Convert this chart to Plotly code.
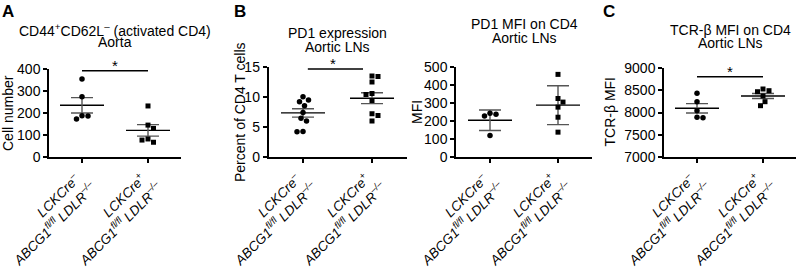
import numpy as np
import plotly.graph_objects as go

W, H = 797, 267

# ---------------- data ----------------
tick_line1 = ["<i>LCKCre<sup>–</sup></i>", "<i>LCKCre<sup>+</sup></i>"]
tick_line2 = ["<i>ABCG1<sup>fl/fl</sup> LDLR<sup>–/–</sup></i>",
              "<i>ABCG1<sup>fl/fl</sup> LDLR<sup>–/–</sup></i>"]

a_ctrl = [354, 274, 188, 173, 186]
a_ko = [232, 145, 130, 82, 67, 77]
a_mean = [235, 121]
a_err = [35, 26]

b1_ctrl = [10.05, 9.5, 9.2, 8.55, 7.4, 6.45, 6.0, 4.2, 4.25]
b1_ko = [13.5, 13.4, 12.5, 10.6, 10.4, 9.4, 7.2, 6.9, 6.0]
b1_mean = [7.35, 9.8]
b1_err = [0.7, 0.9]

b2_ctrl = [243, 237, 228, 120]
b2_ko = [459, 325, 305, 277, 221, 138]
b2_mean = [204, 288]
b2_err = [57, 108]

c_ctrl = [8431, 8243, 8040, 7892, 7883]
c_ko = [8528, 8490, 8467, 8371, 8243, 8153]
c_mean = [8094, 8372]
c_err = [105, 56]

a_ticks = [0, 100, 200, 300, 400]
b1_ticks = [0, 5, 10, 15]
b2_ticks = [0, 100, 200, 300, 400, 500]
c_ticks = [7000, 7500, 8000, 8500, 9000]

# ---------------- layout config ----------------
FONT = "Arial, Liberation Sans, Helvetica, sans-serif"
panels = [
    dict(ctrl=a_ctrl, ko=a_ko, mean=a_mean, err=a_err, ticks=a_ticks,
         x0=49, x1=181, ytop=69, ybot=157, yr=[0, 400],
         title=["CD44<sup>+</sup>CD62L<sup>–</sup> (activated CD4)", "Aorta"], ty=[30, 42],
         ytitle="Cell number", ytx=8, letter="A", lx=0,
         sig=dict(x=[0.0, 1.0], y=392, star=0.5)),
    dict(ctrl=b1_ctrl, ko=b1_ko, mean=b1_mean, err=b1_err, ticks=b1_ticks,
         x0=268.5, x1=406.5, ytop=67, ybot=157, yr=[0, 15],
         title=["PD1 expression", "Aortic LNs"], ty=[33, 47],
         ytitle="Percent of CD4 T cells", ytx=240, letter="B", lx=232,
         sig=dict(x=[0.07, 0.87], y=14.67, star=0.44)),
    dict(ctrl=b2_ctrl, ko=b2_ko, mean=b2_mean, err=b2_err, ticks=b2_ticks,
         x0=456, x1=592, ytop=67, ybot=157, yr=[0, 500],
         title=["PD1 MFI on CD4", "Aortic LNs"], ty=[24, 38],
         ytitle="MFI", ytx=417, letter=None, lx=0, sig=None),
    dict(ctrl=c_ctrl, ko=c_ko, mean=c_mean, err=c_err, ticks=c_ticks,
         x0=664, x1=796, ytop=68, ybot=157, yr=[7000, 9000],
         title=["TCR-β MFI on CD4", "Aortic LNs"], ty=[30, 43],
         ytitle="TCR-β MFI", ytx=609, letter="C", lx=601,
         sig=dict(x=[0.0, 1.0], y=8804, star=0.5)),
]

# rotated category label placement (top-right of rotated box), px
LABEL_SIZE = 13.5
L1_DX, L1_Y = 4, 167
L2_DX, L2_Y = 21, 175


def swarm(values, ppy, D=6.0):
    """Beeswarm offsets (px) so markers of diameter D don't overlap."""
    order = sorted(range(len(values)), key=lambda i: -values[i])
    placed = []
    offs = [0.0] * len(values)
    side = 1
    for i in order:
        y = values[i] * ppy
        chosen = None
        for k in np.arange(0, 40, 0.5):
            cands = [0.0] if k == 0 else [side * k, -side * k]
            for c in cands:
                if all((c - px) ** 2 + (y - py) ** 2 >= D * D for px, py in placed):
                    chosen = c
                    break
            if chosen is not None:
                break
        if chosen != 0:
            side = -side
        placed.append((chosen, y))
        offs[i] = chosen
    return offs


fig = go.Figure()
layout = dict(width=W, height=H, margin=dict(l=0, r=0, t=0, b=0, autoexpand=False),
              template="none",
              paper_bgcolor="white", plot_bgcolor="white", showlegend=False,
              font=dict(family=FONT, color="black", size=14))
annotations = []

for n, p in enumerate(panels):
    k = "" if n == 0 else str(n + 1)
    xa, ya = "x" + k, "y" + k
    wpx = p["x1"] - p["x0"]
    ppx = wpx / 2.0
    ppy = (p["ybot"] - p["ytop"]) / (p["yr"][1] - p["yr"][0])

    layout["xaxis" + k] = dict(
        domain=[p["x0"] / W, p["x1"] / W], range=[-0.5, 1.5], automargin=False,
        tickvals=[0, 1], showticklabels=False,
        showline=True, linecolor="black", linewidth=1.5, ticks="outside",
        ticklen=4, tickwidth=1.5, tickcolor="black", showgrid=False, zeroline=False,
        anchor=ya, fixedrange=True)
    layout["yaxis" + k] = dict(
        domain=[1 - p["ybot"] / H, 1 - p["ytop"] / H], range=p["yr"], automargin=False,
        tickvals=p["ticks"], showline=True, linecolor="black", linewidth=1.5,
        ticks="outside", ticklen=4, tickwidth=1.5, tickcolor="black",
        showgrid=False, zeroline=False, tickfont=dict(size=14, family=FONT),
        anchor=xa, fixedrange=True)

    # category labels (two rotated lines)
    for g in range(2):
        for txt, dx, ypx in ((tick_line1[g], L1_DX, L1_Y), (tick_line2[g], L2_DX, L2_Y)):
            annotations.append(dict(x=g, y=1 - ypx / H, xref=xa, yref="paper", text=txt,
                                    textangle=-45, showarrow=False, xanchor="right",
                                    yanchor="top", xshift=dx,
                                    font=dict(size=LABEL_SIZE, family=FONT)))

    # mean lines + error bars
    for g in range(2):
        hw = 22.0 / ppx
        fig.add_trace(go.Scatter(x=[g - hw, g + hw], y=[p["mean"][g]] * 2, mode="lines",
                                 line=dict(color="black", width=1.4), xaxis=xa, yaxis=ya,
                                 hoverinfo="skip"))
        fig.add_trace(go.Scatter(x=[g], y=[p["mean"][g]], mode="markers",
                                 marker=dict(size=1, color="rgba(0,0,0,0)"),
                                 error_y=dict(type="data", array=[p["err"][g]], visible=True,
                                              color="#555555", thickness=1.4, width=11),
                                 xaxis=xa, yaxis=ya, hoverinfo="skip"))
    # points
    for g, (vals, sym, sz) in enumerate([(p["ctrl"], "circle", 5.5), (p["ko"], "square", 5)]):
        rel = [v - p["yr"][0] for v in vals]
        offs = swarm(rel, ppy)
        xs = [g + o / ppx for o in offs]
        fig.add_trace(go.Scatter(x=xs, y=vals, mode="markers",
                                 marker=dict(symbol=sym, size=sz, color="black", line=dict(width=0)),
                                 xaxis=xa, yaxis=ya))

    # significance bar
    if p["sig"]:
        s = p["sig"]
        fig.add_trace(go.Scatter(x=s["x"], y=[s["y"]] * 2, mode="lines",
                                 line=dict(color="black", width=1.4), xaxis=xa, yaxis=ya,
                                 hoverinfo="skip"))
        annotations.append(dict(x=s["star"], y=s["y"], xref=xa, yref=ya, text="*",
                                showarrow=False, yanchor="middle", yshift=5,
                                font=dict(size=15, family=FONT)))

    # titles
    cx = (p["x0"] + p["x1"]) / 2.0 / W
    for line, ty in zip(p["title"], p["ty"]):
        annotations.append(dict(x=cx, y=1 - ty / H, xref="paper", yref="paper", text=line,
                                showarrow=False, xanchor="center", yanchor="middle",
                                font=dict(size=14, family=FONT)))
    # y title
    annotations.append(dict(x=p["ytx"] / W, y=1 - ((p["ytop"] + p["ybot"]) / 2) / H,
                            xref="paper", yref="paper", text=p["ytitle"], textangle=-90,
                            showarrow=False, xanchor="center", yanchor="middle",
                            font=dict(size=14, family=FONT)))
    if p["letter"]:
        annotations.append(dict(x=p["lx"] / W, y=1, xref="paper", yref="paper",
                                text="<b>" + p["letter"] + "</b>", showarrow=False,
                                xanchor="left", yanchor="top",
                                font=dict(size=17, family=FONT)))

layout["annotations"] = annotations
fig.update_layout(**layout)
fig.write_html("out.html", config={"displayModeBar": False},
               post_script="document.body.style.margin='0';document.body.style.padding='0';")
